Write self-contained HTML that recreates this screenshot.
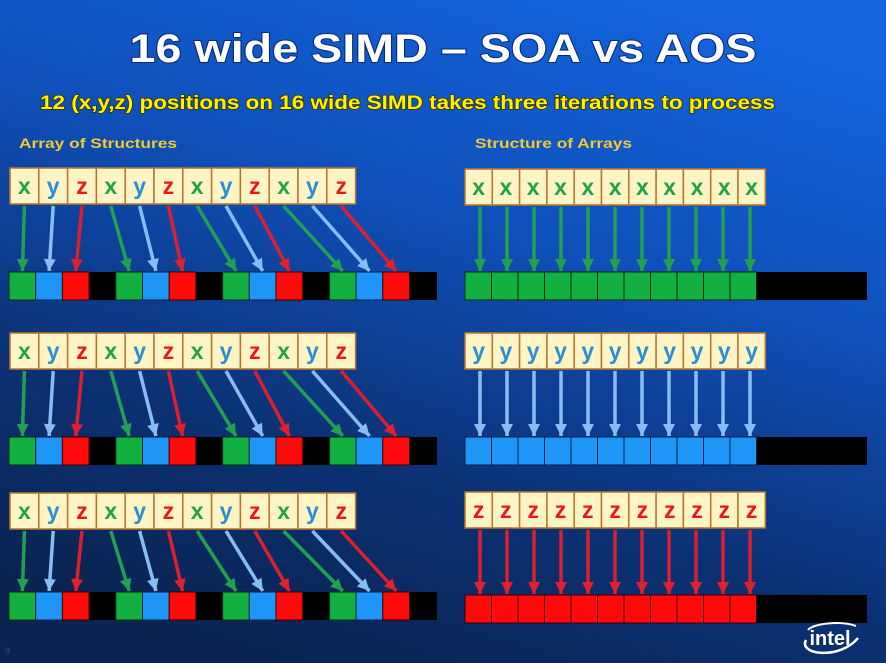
<!DOCTYPE html>
<html><head><meta charset="utf-8"><style>
html,body{margin:0;padding:0;width:886px;height:663px;overflow:hidden}
svg{display:block}
.b{fill:#fff4c4;stroke:#b8742c;stroke-width:1.5}
.t{font-family:"Liberation Sans",sans-serif;font-weight:bold;font-size:23px;text-anchor:middle}
.gx{fill:#1fa347}.gy{fill:#2a8fd8}.gz{fill:#e8161e}
.ag{stroke:#22a052;stroke-width:3.5}.ab{stroke:#86bdf2;stroke-width:3.5}.ar{stroke:#d8202e;stroke-width:3.5}
.cg{fill:#12b040;stroke:#062a10;stroke-width:1}.cb{fill:#1e96f8;stroke:#06204a;stroke-width:1}.cr{fill:#ff0a0a;stroke:#3a0000;stroke-width:1}
</style></head><body>
<svg width="886" height="663" viewBox="0 0 886 663" xmlns="http://www.w3.org/2000/svg">
<defs>
<linearGradient id="bg" x1="0.7" y1="0" x2="0.3" y2="1">
<stop offset="0" stop-color="#1263dc"/><stop offset="0.35" stop-color="#0f4fb8"/><stop offset="0.7" stop-color="#0b3174"/><stop offset="1" stop-color="#0a2350"/>
</linearGradient>
<marker id="mg" markerUnits="userSpaceOnUse" markerWidth="12" markerHeight="12" refX="12" refY="6" orient="auto"><path d="M0,0 L12,6 L0,12z" fill="#22a052"/></marker>
<marker id="mb" markerUnits="userSpaceOnUse" markerWidth="12" markerHeight="12" refX="12" refY="6" orient="auto"><path d="M0,0 L12,6 L0,12z" fill="#86bdf2"/></marker>
<marker id="mr" markerUnits="userSpaceOnUse" markerWidth="12" markerHeight="12" refX="12" refY="6" orient="auto"><path d="M0,0 L12,6 L0,12z" fill="#e0202e"/></marker>
</defs>
<rect width="886" height="663" fill="url(#bg)"/>
<text x="443" y="62" fill="#fff" font-family="Liberation Sans,sans-serif" font-weight="bold" font-size="40" text-anchor="middle" textLength="627" lengthAdjust="spacingAndGlyphs" style="paint-order:stroke" stroke="#0a2a70" stroke-width="2">16 wide SIMD – SOA vs AOS</text>
<text x="40" y="109" fill="#fff200" font-family="Liberation Sans,sans-serif" font-weight="bold" font-size="19" textLength="735" lengthAdjust="spacingAndGlyphs" style="paint-order:stroke" stroke="#3a3000" stroke-width="1.5">12 (x,y,z) positions on 16 wide SIMD takes three iterations to process</text>
<text x="19" y="148" fill="#f4c832" font-family="Liberation Sans,sans-serif" font-weight="bold" font-size="14" textLength="158" lengthAdjust="spacingAndGlyphs">Array of Structures</text>
<text x="475" y="148" fill="#f4c832" font-family="Liberation Sans,sans-serif" font-weight="bold" font-size="14" textLength="157" lengthAdjust="spacingAndGlyphs">Structure of Arrays</text>

<!-- LEFT ROW 1 -->
<g transform="translate(0,168)">
<rect x="9" y="104" width="428" height="28" fill="#000"/>
<rect class="cg" x="9" y="104" width="26.7" height="28"/><rect class="cb" x="35.7" y="104" width="26.7" height="28"/><rect class="cr" x="62.4" y="104" width="26.7" height="28"/>
<rect class="cg" x="115.8" y="104" width="26.7" height="28"/><rect class="cb" x="142.5" y="104" width="26.7" height="28"/><rect class="cr" x="169.2" y="104" width="26.7" height="28"/>
<rect class="cg" x="222.6" y="104" width="26.7" height="28"/><rect class="cb" x="249.3" y="104" width="26.7" height="28"/><rect class="cr" x="276" y="104" width="26.7" height="28"/>
<rect class="cg" x="329.4" y="104" width="26.7" height="28"/><rect class="cb" x="356.1" y="104" width="26.7" height="28"/><rect class="cr" x="382.8" y="104" width="26.7" height="28"/>
<rect class="b" x="10" y="0" width="28.8" height="36"/><rect class="b" x="38.8" y="0" width="28.8" height="36"/><rect class="b" x="67.6" y="0" width="28.8" height="36"/><rect class="b" x="96.4" y="0" width="28.8" height="36"/><rect class="b" x="125.2" y="0" width="28.8" height="36"/><rect class="b" x="154" y="0" width="28.8" height="36"/><rect class="b" x="182.8" y="0" width="28.8" height="36"/><rect class="b" x="211.6" y="0" width="28.8" height="36"/><rect class="b" x="240.4" y="0" width="28.8" height="36"/><rect class="b" x="269.2" y="0" width="28.8" height="36"/><rect class="b" x="298" y="0" width="28.8" height="36"/><rect class="b" x="326.8" y="0" width="28.8" height="36"/>
<text class="t gx" x="24.4" y="26">x</text><text class="t gy" x="53.2" y="26">y</text><text class="t gz" x="82" y="26">z</text><text class="t gx" x="110.8" y="26">x</text><text class="t gy" x="139.6" y="26">y</text><text class="t gz" x="168.4" y="26">z</text><text class="t gx" x="197.2" y="26">x</text><text class="t gy" x="226" y="26">y</text><text class="t gz" x="254.8" y="26">z</text><text class="t gx" x="283.6" y="26">x</text><text class="t gy" x="312.4" y="26">y</text><text class="t gz" x="341.2" y="26">z</text>
<line class="ag" x1="24.4" y1="38" x2="22.4" y2="103" marker-end="url(#mg)"/><line class="ab" x1="53.2" y1="38" x2="49.1" y2="103" marker-end="url(#mb)"/><line class="ar" x1="82" y1="38" x2="75.8" y2="103" marker-end="url(#mr)"/>
<line class="ag" x1="110.8" y1="38" x2="129.2" y2="103" marker-end="url(#mg)"/><line class="ab" x1="139.6" y1="38" x2="155.9" y2="103" marker-end="url(#mb)"/><line class="ar" x1="168.4" y1="38" x2="182.6" y2="103" marker-end="url(#mr)"/>
<line class="ag" x1="197.2" y1="38" x2="236" y2="103" marker-end="url(#mg)"/><line class="ab" x1="226" y1="38" x2="262.7" y2="103" marker-end="url(#mb)"/><line class="ar" x1="254.8" y1="38" x2="289.4" y2="103" marker-end="url(#mr)"/>
<line class="ag" x1="283.6" y1="38" x2="342.8" y2="103" marker-end="url(#mg)"/><line class="ab" x1="312.4" y1="38" x2="369.5" y2="103" marker-end="url(#mb)"/><line class="ar" x1="341.2" y1="38" x2="396.2" y2="103" marker-end="url(#mr)"/>
</g>

<!-- LEFT ROW 2 -->
<g transform="translate(0,333)">
<rect x="9" y="104" width="428" height="28" fill="#000"/>
<rect class="cg" x="9" y="104" width="26.7" height="28"/><rect class="cb" x="35.7" y="104" width="26.7" height="28"/><rect class="cr" x="62.4" y="104" width="26.7" height="28"/>
<rect class="cg" x="115.8" y="104" width="26.7" height="28"/><rect class="cb" x="142.5" y="104" width="26.7" height="28"/><rect class="cr" x="169.2" y="104" width="26.7" height="28"/>
<rect class="cg" x="222.6" y="104" width="26.7" height="28"/><rect class="cb" x="249.3" y="104" width="26.7" height="28"/><rect class="cr" x="276" y="104" width="26.7" height="28"/>
<rect class="cg" x="329.4" y="104" width="26.7" height="28"/><rect class="cb" x="356.1" y="104" width="26.7" height="28"/><rect class="cr" x="382.8" y="104" width="26.7" height="28"/>
<rect class="b" x="10" y="0" width="28.8" height="36"/><rect class="b" x="38.8" y="0" width="28.8" height="36"/><rect class="b" x="67.6" y="0" width="28.8" height="36"/><rect class="b" x="96.4" y="0" width="28.8" height="36"/><rect class="b" x="125.2" y="0" width="28.8" height="36"/><rect class="b" x="154" y="0" width="28.8" height="36"/><rect class="b" x="182.8" y="0" width="28.8" height="36"/><rect class="b" x="211.6" y="0" width="28.8" height="36"/><rect class="b" x="240.4" y="0" width="28.8" height="36"/><rect class="b" x="269.2" y="0" width="28.8" height="36"/><rect class="b" x="298" y="0" width="28.8" height="36"/><rect class="b" x="326.8" y="0" width="28.8" height="36"/>
<text class="t gx" x="24.4" y="26">x</text><text class="t gy" x="53.2" y="26">y</text><text class="t gz" x="82" y="26">z</text><text class="t gx" x="110.8" y="26">x</text><text class="t gy" x="139.6" y="26">y</text><text class="t gz" x="168.4" y="26">z</text><text class="t gx" x="197.2" y="26">x</text><text class="t gy" x="226" y="26">y</text><text class="t gz" x="254.8" y="26">z</text><text class="t gx" x="283.6" y="26">x</text><text class="t gy" x="312.4" y="26">y</text><text class="t gz" x="341.2" y="26">z</text>
<line class="ag" x1="24.4" y1="38" x2="22.4" y2="103" marker-end="url(#mg)"/><line class="ab" x1="53.2" y1="38" x2="49.1" y2="103" marker-end="url(#mb)"/><line class="ar" x1="82" y1="38" x2="75.8" y2="103" marker-end="url(#mr)"/>
<line class="ag" x1="110.8" y1="38" x2="129.2" y2="103" marker-end="url(#mg)"/><line class="ab" x1="139.6" y1="38" x2="155.9" y2="103" marker-end="url(#mb)"/><line class="ar" x1="168.4" y1="38" x2="182.6" y2="103" marker-end="url(#mr)"/>
<line class="ag" x1="197.2" y1="38" x2="236" y2="103" marker-end="url(#mg)"/><line class="ab" x1="226" y1="38" x2="262.7" y2="103" marker-end="url(#mb)"/><line class="ar" x1="254.8" y1="38" x2="289.4" y2="103" marker-end="url(#mr)"/>
<line class="ag" x1="283.6" y1="38" x2="342.8" y2="103" marker-end="url(#mg)"/><line class="ab" x1="312.4" y1="38" x2="369.5" y2="103" marker-end="url(#mb)"/><line class="ar" x1="341.2" y1="38" x2="396.2" y2="103" marker-end="url(#mr)"/>
</g>

<!-- LEFT ROW 3 -->
<g transform="translate(0,493)">
<rect x="9" y="99" width="428" height="28" fill="#000"/>
<rect class="cg" x="9" y="99" width="26.7" height="28"/><rect class="cb" x="35.7" y="99" width="26.7" height="28"/><rect class="cr" x="62.4" y="99" width="26.7" height="28"/>
<rect class="cg" x="115.8" y="99" width="26.7" height="28"/><rect class="cb" x="142.5" y="99" width="26.7" height="28"/><rect class="cr" x="169.2" y="99" width="26.7" height="28"/>
<rect class="cg" x="222.6" y="99" width="26.7" height="28"/><rect class="cb" x="249.3" y="99" width="26.7" height="28"/><rect class="cr" x="276" y="99" width="26.7" height="28"/>
<rect class="cg" x="329.4" y="99" width="26.7" height="28"/><rect class="cb" x="356.1" y="99" width="26.7" height="28"/><rect class="cr" x="382.8" y="99" width="26.7" height="28"/>
<rect class="b" x="10" y="0" width="28.8" height="36"/><rect class="b" x="38.8" y="0" width="28.8" height="36"/><rect class="b" x="67.6" y="0" width="28.8" height="36"/><rect class="b" x="96.4" y="0" width="28.8" height="36"/><rect class="b" x="125.2" y="0" width="28.8" height="36"/><rect class="b" x="154" y="0" width="28.8" height="36"/><rect class="b" x="182.8" y="0" width="28.8" height="36"/><rect class="b" x="211.6" y="0" width="28.8" height="36"/><rect class="b" x="240.4" y="0" width="28.8" height="36"/><rect class="b" x="269.2" y="0" width="28.8" height="36"/><rect class="b" x="298" y="0" width="28.8" height="36"/><rect class="b" x="326.8" y="0" width="28.8" height="36"/>
<text class="t gx" x="24.4" y="26">x</text><text class="t gy" x="53.2" y="26">y</text><text class="t gz" x="82" y="26">z</text><text class="t gx" x="110.8" y="26">x</text><text class="t gy" x="139.6" y="26">y</text><text class="t gz" x="168.4" y="26">z</text><text class="t gx" x="197.2" y="26">x</text><text class="t gy" x="226" y="26">y</text><text class="t gz" x="254.8" y="26">z</text><text class="t gx" x="283.6" y="26">x</text><text class="t gy" x="312.4" y="26">y</text><text class="t gz" x="341.2" y="26">z</text>
<line class="ag" x1="24.4" y1="38" x2="22.4" y2="98" marker-end="url(#mg)"/><line class="ab" x1="53.2" y1="38" x2="49.1" y2="98" marker-end="url(#mb)"/><line class="ar" x1="82" y1="38" x2="75.8" y2="98" marker-end="url(#mr)"/>
<line class="ag" x1="110.8" y1="38" x2="129.2" y2="98" marker-end="url(#mg)"/><line class="ab" x1="139.6" y1="38" x2="155.9" y2="98" marker-end="url(#mb)"/><line class="ar" x1="168.4" y1="38" x2="182.6" y2="98" marker-end="url(#mr)"/>
<line class="ag" x1="197.2" y1="38" x2="236" y2="98" marker-end="url(#mg)"/><line class="ab" x1="226" y1="38" x2="262.7" y2="98" marker-end="url(#mb)"/><line class="ar" x1="254.8" y1="38" x2="289.4" y2="98" marker-end="url(#mr)"/>
<line class="ag" x1="283.6" y1="38" x2="342.8" y2="98" marker-end="url(#mg)"/><line class="ab" x1="312.4" y1="38" x2="369.5" y2="98" marker-end="url(#mb)"/><line class="ar" x1="341.2" y1="38" x2="396.2" y2="98" marker-end="url(#mr)"/>
</g>

<!-- RIGHT ROW 1 (x) -->
<g transform="translate(0,169)">
<rect x="465" y="103" width="402" height="28" fill="#000"/>
<rect class="cg" x="465" y="103" width="26.5" height="28"/><rect class="cg" x="491.5" y="103" width="26.5" height="28"/><rect class="cg" x="518" y="103" width="26.5" height="28"/><rect class="cg" x="544.5" y="103" width="26.5" height="28"/><rect class="cg" x="571" y="103" width="26.5" height="28"/><rect class="cg" x="597.5" y="103" width="26.5" height="28"/><rect class="cg" x="624" y="103" width="26.5" height="28"/><rect class="cg" x="650.5" y="103" width="26.5" height="28"/><rect class="cg" x="677" y="103" width="26.5" height="28"/><rect class="cg" x="703.5" y="103" width="26.5" height="28"/><rect class="cg" x="730" y="103" width="26.5" height="28"/>
<rect class="b" x="465" y="0" width="27.3" height="36"/><rect class="b" x="492.3" y="0" width="27.3" height="36"/><rect class="b" x="519.6" y="0" width="27.3" height="36"/><rect class="b" x="546.9" y="0" width="27.3" height="36"/><rect class="b" x="574.2" y="0" width="27.3" height="36"/><rect class="b" x="601.5" y="0" width="27.3" height="36"/><rect class="b" x="628.8" y="0" width="27.3" height="36"/><rect class="b" x="656.1" y="0" width="27.3" height="36"/><rect class="b" x="683.4" y="0" width="27.3" height="36"/><rect class="b" x="710.7" y="0" width="27.3" height="36"/><rect class="b" x="738" y="0" width="27.3" height="36"/>
<text class="t gx" x="478.6" y="26">x</text><text class="t gx" x="505.9" y="26">x</text><text class="t gx" x="533.2" y="26">x</text><text class="t gx" x="560.5" y="26">x</text><text class="t gx" x="587.8" y="26">x</text><text class="t gx" x="615.1" y="26">x</text><text class="t gx" x="642.4" y="26">x</text><text class="t gx" x="669.7" y="26">x</text><text class="t gx" x="697" y="26">x</text><text class="t gx" x="724.3" y="26">x</text><text class="t gx" x="751.6" y="26">x</text>
<g class="ag" marker-end="url(#mg)"><line x1="480" y1="38" x2="480" y2="102" marker-end="url(#mg)"/><line x1="507" y1="38" x2="507" y2="102" marker-end="url(#mg)"/><line x1="534" y1="38" x2="534" y2="102" marker-end="url(#mg)"/><line x1="561" y1="38" x2="561" y2="102" marker-end="url(#mg)"/><line x1="588" y1="38" x2="588" y2="102" marker-end="url(#mg)"/><line x1="615" y1="38" x2="615" y2="102" marker-end="url(#mg)"/><line x1="642" y1="38" x2="642" y2="102" marker-end="url(#mg)"/><line x1="669" y1="38" x2="669" y2="102" marker-end="url(#mg)"/><line x1="696" y1="38" x2="696" y2="102" marker-end="url(#mg)"/><line x1="723" y1="38" x2="723" y2="102" marker-end="url(#mg)"/><line x1="750" y1="38" x2="750" y2="102" marker-end="url(#mg)"/></g>
</g>

<!-- RIGHT ROW 2 (y) -->
<g transform="translate(0,333)">
<rect x="465" y="104" width="402" height="28" fill="#000"/>
<rect class="cb" x="465" y="104" width="26.5" height="28"/><rect class="cb" x="491.5" y="104" width="26.5" height="28"/><rect class="cb" x="518" y="104" width="26.5" height="28"/><rect class="cb" x="544.5" y="104" width="26.5" height="28"/><rect class="cb" x="571" y="104" width="26.5" height="28"/><rect class="cb" x="597.5" y="104" width="26.5" height="28"/><rect class="cb" x="624" y="104" width="26.5" height="28"/><rect class="cb" x="650.5" y="104" width="26.5" height="28"/><rect class="cb" x="677" y="104" width="26.5" height="28"/><rect class="cb" x="703.5" y="104" width="26.5" height="28"/><rect class="cb" x="730" y="104" width="26.5" height="28"/>
<rect class="b" x="465" y="0" width="27.3" height="36"/><rect class="b" x="492.3" y="0" width="27.3" height="36"/><rect class="b" x="519.6" y="0" width="27.3" height="36"/><rect class="b" x="546.9" y="0" width="27.3" height="36"/><rect class="b" x="574.2" y="0" width="27.3" height="36"/><rect class="b" x="601.5" y="0" width="27.3" height="36"/><rect class="b" x="628.8" y="0" width="27.3" height="36"/><rect class="b" x="656.1" y="0" width="27.3" height="36"/><rect class="b" x="683.4" y="0" width="27.3" height="36"/><rect class="b" x="710.7" y="0" width="27.3" height="36"/><rect class="b" x="738" y="0" width="27.3" height="36"/>
<text class="t gy" x="478.6" y="26">y</text><text class="t gy" x="505.9" y="26">y</text><text class="t gy" x="533.2" y="26">y</text><text class="t gy" x="560.5" y="26">y</text><text class="t gy" x="587.8" y="26">y</text><text class="t gy" x="615.1" y="26">y</text><text class="t gy" x="642.4" y="26">y</text><text class="t gy" x="669.7" y="26">y</text><text class="t gy" x="697" y="26">y</text><text class="t gy" x="724.3" y="26">y</text><text class="t gy" x="751.6" y="26">y</text>
<g class="ab"><line x1="480" y1="38" x2="480" y2="103" marker-end="url(#mb)"/><line x1="507" y1="38" x2="507" y2="103" marker-end="url(#mb)"/><line x1="534" y1="38" x2="534" y2="103" marker-end="url(#mb)"/><line x1="561" y1="38" x2="561" y2="103" marker-end="url(#mb)"/><line x1="588" y1="38" x2="588" y2="103" marker-end="url(#mb)"/><line x1="615" y1="38" x2="615" y2="103" marker-end="url(#mb)"/><line x1="642" y1="38" x2="642" y2="103" marker-end="url(#mb)"/><line x1="669" y1="38" x2="669" y2="103" marker-end="url(#mb)"/><line x1="696" y1="38" x2="696" y2="103" marker-end="url(#mb)"/><line x1="723" y1="38" x2="723" y2="103" marker-end="url(#mb)"/><line x1="750" y1="38" x2="750" y2="103" marker-end="url(#mb)"/></g>
</g>

<!-- RIGHT ROW 3 (z) -->
<g transform="translate(0,492)">
<rect x="465" y="103" width="402" height="28" fill="#000"/>
<rect class="cr" x="465" y="103" width="26.5" height="28"/><rect class="cr" x="491.5" y="103" width="26.5" height="28"/><rect class="cr" x="518" y="103" width="26.5" height="28"/><rect class="cr" x="544.5" y="103" width="26.5" height="28"/><rect class="cr" x="571" y="103" width="26.5" height="28"/><rect class="cr" x="597.5" y="103" width="26.5" height="28"/><rect class="cr" x="624" y="103" width="26.5" height="28"/><rect class="cr" x="650.5" y="103" width="26.5" height="28"/><rect class="cr" x="677" y="103" width="26.5" height="28"/><rect class="cr" x="703.5" y="103" width="26.5" height="28"/><rect class="cr" x="730" y="103" width="26.5" height="28"/>
<rect class="b" x="465" y="0" width="27.3" height="36"/><rect class="b" x="492.3" y="0" width="27.3" height="36"/><rect class="b" x="519.6" y="0" width="27.3" height="36"/><rect class="b" x="546.9" y="0" width="27.3" height="36"/><rect class="b" x="574.2" y="0" width="27.3" height="36"/><rect class="b" x="601.5" y="0" width="27.3" height="36"/><rect class="b" x="628.8" y="0" width="27.3" height="36"/><rect class="b" x="656.1" y="0" width="27.3" height="36"/><rect class="b" x="683.4" y="0" width="27.3" height="36"/><rect class="b" x="710.7" y="0" width="27.3" height="36"/><rect class="b" x="738" y="0" width="27.3" height="36"/>
<text class="t gz" x="478.6" y="26">z</text><text class="t gz" x="505.9" y="26">z</text><text class="t gz" x="533.2" y="26">z</text><text class="t gz" x="560.5" y="26">z</text><text class="t gz" x="587.8" y="26">z</text><text class="t gz" x="615.1" y="26">z</text><text class="t gz" x="642.4" y="26">z</text><text class="t gz" x="669.7" y="26">z</text><text class="t gz" x="697" y="26">z</text><text class="t gz" x="724.3" y="26">z</text><text class="t gz" x="751.6" y="26">z</text>
<g class="ar"><line x1="480" y1="38" x2="480" y2="102" marker-end="url(#mr)"/><line x1="507" y1="38" x2="507" y2="102" marker-end="url(#mr)"/><line x1="534" y1="38" x2="534" y2="102" marker-end="url(#mr)"/><line x1="561" y1="38" x2="561" y2="102" marker-end="url(#mr)"/><line x1="588" y1="38" x2="588" y2="102" marker-end="url(#mr)"/><line x1="615" y1="38" x2="615" y2="102" marker-end="url(#mr)"/><line x1="642" y1="38" x2="642" y2="102" marker-end="url(#mr)"/><line x1="669" y1="38" x2="669" y2="102" marker-end="url(#mr)"/><line x1="696" y1="38" x2="696" y2="102" marker-end="url(#mr)"/><line x1="723" y1="38" x2="723" y2="102" marker-end="url(#mr)"/><line x1="750" y1="38" x2="750" y2="102" marker-end="url(#mr)"/></g>
</g>

<!-- intel logo -->
<text x="830" y="645" fill="#fff" font-family="Liberation Sans,sans-serif" font-weight="bold" font-size="20" text-anchor="middle">intel</text>
<path d="M806,640 C798,655 840,660 858,638" fill="none" stroke="#fff" stroke-width="2.5"/>
<path d="M808,630 C812,624 840,620 856,626" fill="none" stroke="#fff" stroke-width="2"/>
<text x="5" y="654" fill="#33507a" font-family="Liberation Sans,sans-serif" font-size="9">9</text>
</svg>
</body></html>
